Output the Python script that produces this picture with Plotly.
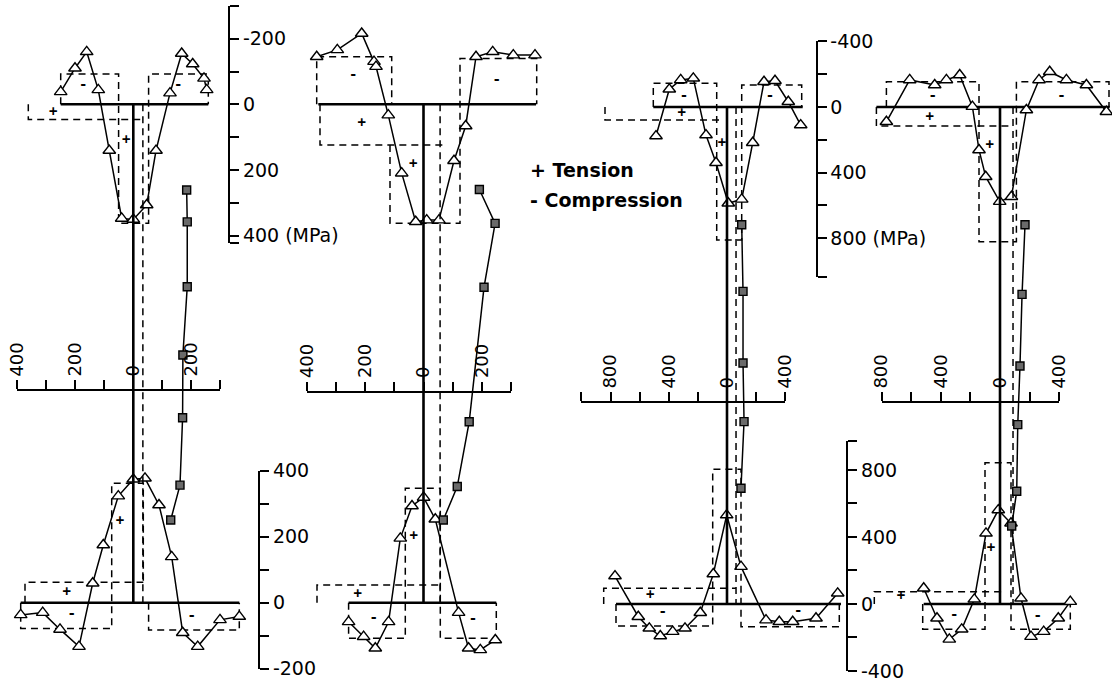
import plotly.graph_objects as go

W, H = 1112, 684
FONT = "DejaVu Sans, Liberation Sans, Arial, sans-serif"

# ---------------- data (positions in drawing units from web centre, stresses in MPa) ----------------
# Panel 1
p1_top_pos = [-72.6, -58.3, -46.6, -35.0, -24.0, -11.6, 0.0, 13.4, 22.7, 36.7, 48.4, 59.4, 70.7, 73.4]
p1_top_stress = [-38, -110, -160, -44, 141, 348, 351, 307, 141, -34, -155, -123, -79, -44]
p1_bot_pos = [-112.6, -90.6, -73.3, -54.3, -40.6, -30.0, -15.0, 0.0, 11.7, 25.7, 38.4, 49.4, 64.4, 86.7, 106.0]
p1_bot_stress = [-37, -30, -81, -133, 59, 175, 323, 374, 377, 296, 139, -91, -133, -52, -42]
p1_web_depth = [17.2, 23.6, 36.6, 50.3, 62.9, 76.4, 83.4]
p1_web_stress = [184, 186, 186, 171, 170, 161, 129]

# Panel 2
p2_top_pos = [-106.3, -85.7, -61.3, -49.0, -47.0, -34.7, -21.3, -7.3, 3.7, 16.0, 31.0, 42.7, 53.0, 69.7, 90.3, 112.0]
p2_top_stress = [-145, -166, -216, -130, -115, 33, 210, 358, 353, 353, 172, 66, -145, -160, -150, -150]
p2_bot_pos = [-74.4, -59.4, -47.7, -34.4, -22.7, -11.0, 0.6, 12.3, 35.6, 45.6, 57.3, 72.3]
p2_bot_stress = [-58, -103, -138, -58, 195, 293, 319, 253, -30, -138, -143, -113]
p2_web_depth = [17.1, 23.9, 36.7, 63.7, 76.7, 83.4]
p2_web_stress = [192, 246, 208, 157, 116, 68]

# Panel 3
p3_top_pos = [-71.0, -57.7, -46.3, -33.7, -21.0, -11.0, 1.3, 14.7, 25.7, 37.0, 48.0, 61.3, 73.7]
p3_top_stress = [177, -108, -165, -175, 171, 340, 587, 563, 218, -154, -160, -32, 110]
p3_bot_pos = [-112.0, -88.7, -77.7, -66.7, -54.3, -42.0, -26.7, -13.7, -0.3, 14.0, 39.0, 52.3, 65.7, 89.0, 110.7]
p3_bot_stress = [167, -76, -145, -191, -165, -145, -52, 179, 531, 223, -96, -106, -106, -85, 64]
p3_web_depth = [23.7, 37.1, 51.5, 63.3, 76.7]
p3_web_stress = [101, 110, 110, 117, 96]

# Panel 4
p4_top_pos = [-112.6, -89.3, -64.3, -52.6, -39.3, -26.6, -20.0, -13.3, 0.7, 12.4, 27.4, 40.0, 50.7, 67.4, 87.4, 107.4]
p4_top_stress = [90, -165, -134, -165, -195, -2, 262, 425, 577, 547, 18, -165, -215, -165, -134, 29]
p4_bot_pos = [-75.3, -62.0, -49.7, -37.3, -24.7, -13.0, -0.7, 12.0, 22.0, 32.0, 44.7, 59.3, 71.3]
p4_bot_stress = [94, -85, -211, -151, 28, 422, 561, 482, 34, -195, -165, -85, 14]
p4_web_depth = [23.7, 37.7, 52.1, 63.9, 77.3, 84.3]
p4_web_stress = [169, 149, 135, 120, 113, 79]

# flange extents (left tip, right tip)
top_flange = [[-72.6, 75.0], [-104.7, 113.0], [-73.7, 75.7], [-122.6, 110.7]]
bot_flange = [[-112.6, 106.0], [-74.4, 73.3], [-111.0, 114.0], [-75.3, 72.0]]

# idealised (dashed) stress blocks: lists of (positions, stresses)
top_blocks = [
    [([-72.6, -72.6, -14.7, -14.7, 15.3, 15.3, 75.0, 75.0], [0, -92, -92, 363, 363, -92, -92, 0]),
     ([-105.0, -105.0, 10.0], [0, 46, 46])],
    [([-106.3, -106.3, -31.3, -31.3], [0, -145, -145, 0]),
     ([-103.0, -103.0, 23.7], [0, 124, 124]),
     ([-33.0, -33.0, 37.0, 37.0, 113.7, 113.7], [124, 363, 363, -140, -140, 0])],
    [([-122.0, -122.0, -4.0], [0, 79, 79]),
     ([-73.7, -73.7, -10.3, -10.3, 14.7, 14.7, 74.7, 74.7], [0, -145, -145, 811, 811, -134, -134, 0])],
    [([-122.6, -122.6, 12.4], [0, 116, 116]),
     ([-112.6, -112.6, -20.0, -20.0, 17.4, 17.4, 110.0, 110.0], [0, -154, -154, 821, 821, -154, -154, 0])],
]
bot_blocks = [
    [([-112.6, -112.6, -21.6, -21.6, 10.0, 10.0], [0, -78, -78, 362, 362, 62]),
     ([-108.3, -108.3, 10.0], [0, 62, 62]),
     ([15.3, 15.3, 106.0, 106.0], [0, -83, -83, 0])],
    [([-106.0, -106.0, 17.3], [0, 54, 54]),
     ([-74.4, -74.4, -17.7, -17.7, 17.3, 17.3, 73.3, 73.3], [0, -108, -108, 347, 347, -108, -108, 0])],
    [([-123.3, -123.3, 9.0], [0, 94, 94]),
     ([-111.0, -111.0, -14.3, -14.3, 14.0, 14.0, 112.3, 112.3], [0, -131, -131, 804, 804, -136, -136, 0])],
    [([-124.7, -124.7, 7.0], [0, 73, 73]),
     ([-76.3, -76.3, -14.0, -14.0, 12.0, 12.0, 71.3, 71.3], [0, -151, -151, 844, 844, -151, -151, 0])],
]
web_ideal = [33, 57, 62, 88]

# sign labels (text, position, stress)
top_signs = [
    (['-', '+', '+', '-'], [-50, -80, -7, 45], [-56, 26, 111, -56]),
    (['-', '+', '+', '-'], [-69.7, -61.3, -9.7, 73.7], [-89, 60, 185, -74]),
    (['-', '+', '+', '-'], [-43, -45.3, -5, 43], [-66, 40, 220, -63]),
    (['-', '+', '+', '-'], [-66.3, -69.3, -9.3, 62.4], [-66, 62, 232, -63]),
]
bot_signs = [
    (['+', '-', '+', '-'], [-66.6, -61.6, -13.3, 58.4], [30, -37, 245, -42]),
    (['+', '-', '+', '-'], [-65.4, -49.4, -9.4, 50], [26, -47, 202, -50]),
    (['+', '-', '-'], [-76.7, -64.3, 71.3], [48, -52, -46]),
    (['+', '-', '+', '-'], [-98, -44.7, -8, 38.7], [44, -66, 332, -76]),
]

# stress-axis tick values / labels
ax_top12_vals = [-300, -200, -100, 0, 100, 200, 300, 400, 423]
ax_top12_text = ['', '-200', '', '0', '', '200', '', '400 (MPa)', '']
ax_bot12_vals = [-200, -100, 0, 100, 200, 300, 400]
ax_bot12_text = ['-200', '', '0', '', '200', '', '400']
ax_top34_vals = [-400, -200, 0, 200, 400, 600, 800, 1037]
ax_top34_text = ['-400', '', '0', '', '400', '', '800 (MPa)', '']
ax_bot34_vals = [-400, -200, 0, 200, 400, 600, 800, 975]
ax_bot34_text = ['-400', '', '0', '', '400', '', '800', '']
web12_vals = [-400, -300, -200, -100, 0, 100, 200, 300]
web12_text = ['400', '', '200', '', '0', '', '200', '']
web3_vals = [-1000, -800, -600, -400, -200, 0, 200, 400]
web3_text = ['', '800', '', '400', '', '0', '', '400']
web4_vals = [-800, -600, -400, -200, 0, 200, 400]
web4_text = ['800', '', '400', '', '0', '', '400']

legend_lines = ['+ Tension', '- Compression']

# ---------------- layout helpers ----------------
def fx(px):
    return px / W


def fy(py):
    return 1 - py / H


def down_axis(y0, s, vmin, vmax):
    top, bot = y0 + vmin * s, y0 + vmax * s
    return dict(domain=[fy(bot), fy(top)], range=[vmax, vmin])


def up_axis(y0, s, vmin, vmax):
    top, bot = y0 - vmax * s, y0 - vmin * s
    return dict(domain=[fy(bot), fy(top)], range=[vmin, vmax])


def h_axis(x0, s, vmin, vmax):
    return dict(domain=[fx(x0 + vmin * s), fx(x0 + vmax * s)], range=[vmin, vmax])


def ref(letter, n):
    return letter if n == 1 else f"{letter}{n}"


def key(letter, n):
    return f"{letter}axis" if n == 1 else f"{letter}axis{n}"


TICKFONT = dict(family=FONT, size=19, color='black')
VIS = dict(showgrid=False, zeroline=False, showline=True, linecolor='black', linewidth=1.6,
           ticks='outside', tickcolor='black', tickwidth=1.6, ticklen=9, tickmode='array',
           tickfont=TICKFONT, fixedrange=True, automargin=False)
HID = dict(visible=False, showgrid=False, zeroline=False, fixedrange=True, automargin=False)

layout = dict(width=W, height=H, margin=dict(l=0, r=0, t=0, b=0, pad=0, autoexpand=False),
              paper_bgcolor='white', plot_bgcolor='rgba(0,0,0,0)', showlegend=False,
              font=dict(family=FONT, size=19, color='black'))

# stress axes for flanges
layout['yaxis'] = dict(VIS, **down_axis(104.3, 0.328, -300, 423), anchor='free', position=fx(229.3),
                       side='right', tickvals=ax_top12_vals, ticktext=ax_top12_text)
layout['yaxis2'] = dict(VIS, **up_axis(602.7, 0.33, -200, 400), anchor='free', position=fx(259.3),
                        side='right', tickvals=ax_bot12_vals, ticktext=ax_bot12_text)
layout['yaxis3'] = dict(VIS, **down_axis(107.0, 0.164, -400, 1037), anchor='free', position=fx(816.7),
                        side='right', tickvals=ax_top34_vals, ticktext=ax_top34_text)
layout['yaxis4'] = dict(VIS, **up_axis(604.0, 0.1675, -400, 975), anchor='free', position=fx(847.3),
                        side='right', tickvals=ax_bot34_vals, ticktext=ax_bot34_text)
# web depth axes (hidden), 0 = top flange, 100 = bottom flange
layout['yaxis5'] = dict(HID, domain=[fy(602.7), fy(104.3)], range=[100, 0], anchor='x9')
layout['yaxis6'] = dict(HID, domain=[fy(604.0), fy(107.0)], range=[100, 0], anchor='x11')

web_px = [133.3, 423.0, 727.0, 999.0]
top_dom = [(0, 228), (290, 565), (585, 812), (855, 1112)]
bot_dom = [(0, 250), (290, 565), (585, 845), (855, 1112)]
for i in range(4):
    w = web_px[i]
    a, b = top_dom[i]
    layout[key('x', i + 1)] = dict(HID, **h_axis(w, 1.0, a - w, b - w), anchor='y' if i < 2 else 'y3')
    a, b = bot_dom[i]
    layout[key('x', i + 5)] = dict(HID, **h_axis(w, 1.0, a - w, b - w), anchor='y2' if i < 2 else 'y4')

web_axes = [
    (133.3, 0.290, -400, 300, 390.0, web12_vals, web12_text),
    (423.5, 0.291, -400, 300, 391.5, web12_vals, web12_text),
    (727.0, 0.1456, -1000, 400, 402.0, web3_vals, web3_text),
    (1000.0, 0.148, -800, 400, 402.0, web4_vals, web4_text),
]
for i, (x0, s, vmin, vmax, ypos, tv, tt) in enumerate(web_axes):
    layout[key('x', i + 9)] = dict(VIS, **h_axis(x0, s, vmin, vmax), anchor='free', position=fy(ypos),
                                   side='top', tickangle=-90, tickvals=tv, ticktext=tt,
                                   tickfont=dict(family=FONT, size=18, color='black'))

fig = go.Figure()
DASH = dict(color='black', width=1.5, dash='7px,5px')
SOLID = dict(color='black', width=2.6)
CURVE = dict(color='black', width=1.5)
TRI = dict(symbol='triangle-up', size=11, color='white', line=dict(color='black', width=1.4))
SQ = dict(symbol='square', size=8, color='#6a6a6a', line=dict(color='black', width=1.4))
SIGNFONT = dict(family="DejaVu Sans Mono, DejaVu Sans, monospace", size=14, color='black', weight='bold')

tops = [(p1_top_pos, p1_top_stress), (p2_top_pos, p2_top_stress), (p3_top_pos, p3_top_stress), (p4_top_pos, p4_top_stress)]
bots = [(p1_bot_pos, p1_bot_stress), (p2_bot_pos, p2_bot_stress), (p3_bot_pos, p3_bot_stress), (p4_bot_pos, p4_bot_stress)]
webs = [(p1_web_stress, p1_web_depth), (p2_web_stress, p2_web_depth), (p3_web_stress, p3_web_depth), (p4_web_stress, p4_web_depth)]

for i in range(4):
    xt, xb, xw = ref('x', i + 1), ref('x', i + 5), ref('x', i + 9)
    yt = 'y' if i < 2 else 'y3'
    yb = 'y2' if i < 2 else 'y4'
    yw = 'y5' if i < 2 else 'y6'
    # dashed idealised blocks
    for px_, sv in top_blocks[i]:
        fig.add_trace(go.Scatter(x=px_, y=sv, xaxis=xt, yaxis=yt, mode='lines', line=DASH, hoverinfo='skip'))
    for px_, sv in bot_blocks[i]:
        fig.add_trace(go.Scatter(x=px_, y=sv, xaxis=xb, yaxis=yb, mode='lines', line=DASH, hoverinfo='skip'))
    fig.add_trace(go.Scatter(x=[web_ideal[i], web_ideal[i]], y=[0, 100], xaxis=xw, yaxis=yw,
                             mode='lines', line=DASH, hoverinfo='skip'))
    # section outline (flanges + web)
    fig.add_trace(go.Scatter(x=top_flange[i], y=[0, 0], xaxis=xt, yaxis=yt, mode='lines', line=SOLID))
    fig.add_trace(go.Scatter(x=bot_flange[i], y=[0, 0], xaxis=xb, yaxis=yb, mode='lines', line=SOLID))
    fig.add_trace(go.Scatter(x=[0, 0], y=[0, 100], xaxis=xw, yaxis=yw, mode='lines', line=SOLID))
    # measured data
    fig.add_trace(go.Scatter(x=webs[i][0], y=webs[i][1], xaxis=xw, yaxis=yw, mode='lines+markers',
                             line=CURVE, marker=SQ, cliponaxis=False))
    fig.add_trace(go.Scatter(x=tops[i][0], y=tops[i][1], xaxis=xt, yaxis=yt, mode='lines+markers',
                             line=CURVE, marker=TRI, cliponaxis=False))
    fig.add_trace(go.Scatter(x=bots[i][0], y=bots[i][1], xaxis=xb, yaxis=yb, mode='lines+markers',
                             line=CURVE, marker=TRI, cliponaxis=False))
    # signs
    t, p, s = top_signs[i]
    fig.add_trace(go.Scatter(x=p, y=s, text=t, xaxis=xt, yaxis=yt, mode='text',
                             textfont=SIGNFONT, cliponaxis=False))
    t, p, s = bot_signs[i]
    fig.add_trace(go.Scatter(x=p, y=s, text=t, xaxis=xb, yaxis=yb, mode='text',
                             textfont=SIGNFONT, cliponaxis=False))

for j, txt in enumerate(legend_lines):
    fig.add_annotation(x=fx(528), y=fy(170 + 30 * j), xref='paper', yref='paper', text=f"<b>{txt}</b>",
                       showarrow=False, xanchor='left', yanchor='middle',
                       font=dict(family=FONT, size=19, color='black'))

fig.update_layout(**layout)
fig.write_html("out.html")
